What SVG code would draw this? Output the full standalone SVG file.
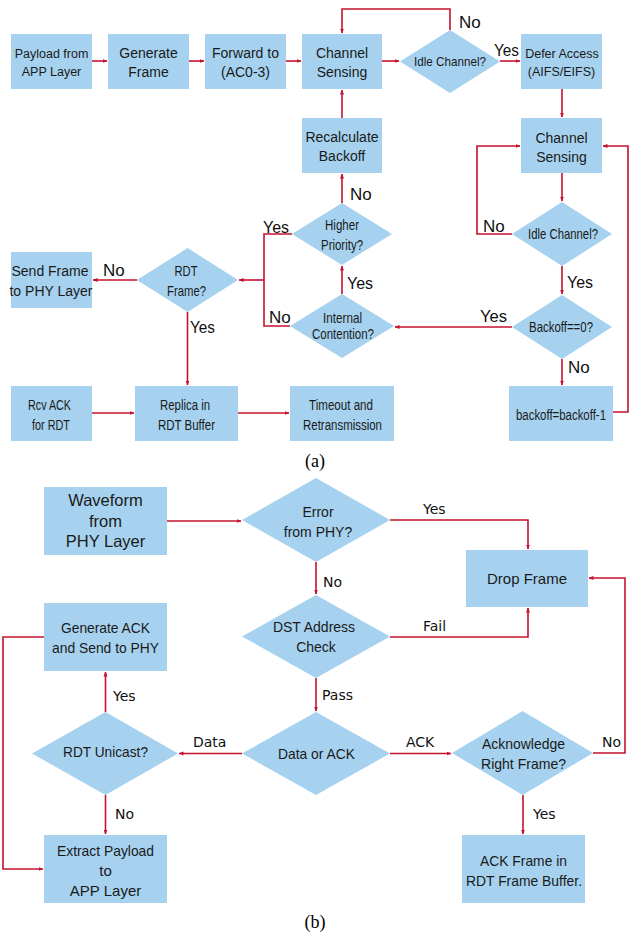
<svg xmlns="http://www.w3.org/2000/svg" width="630" height="938" viewBox="0 0 630 938">
  <style>
    .box { fill: #a6d2ef; }
    .t { font-family: "Liberation Sans", Arial, sans-serif; fill: #1a1a1a; text-anchor: middle; }
    .lbl { font-family: "Liberation Sans", Arial, sans-serif; font-size: 17px; fill: #111; }
    .lb { font-family: "DejaVu Sans", Verdana, sans-serif; font-size: 14px; fill: #111; }
    .cap { font-family: "Liberation Serif", "Times New Roman", serif; font-size: 18px; fill: #000; text-anchor: middle; }
    .c { fill: none; stroke: #c4122f; stroke-width: 1.6; }
    .a { marker-end: url(#arr); }
  </style>
  <defs>
    <marker id="arr" viewBox="0 0 10 10" refX="9" refY="5" markerWidth="5" markerHeight="5" orient="auto" markerUnits="userSpaceOnUse">
      <path d="M0,1 L10,5 L0,9 z" fill="#c4122f"/>
    </marker>
  </defs>

  <rect width="630" height="938" fill="#ffffff"/>

  <!-- (a) transmit side -->
  <g id="payload-app">
    <rect class="box" x="11" y="34" width="81" height="55"/>
    <text class="t" font-size="12.5" x="51.5" y="57.5">Payload from</text>
    <text class="t" font-size="12.5" x="51.5" y="75.5">APP Layer</text>
  </g>
  <g id="generate-frame">
    <rect class="box" x="108" y="34" width="81" height="55"/>
    <text class="t" font-size="14" x="148.5" y="57.5">Generate</text>
    <text class="t" font-size="14" x="148.5" y="77">Frame</text>
  </g>
  <g id="forward-ac">
    <rect class="box" x="205" y="34" width="81" height="55"/>
    <text class="t" font-size="14" x="245.5" y="57.5">Forward to</text>
    <text class="t" font-size="14" x="245.5" y="77">(AC0-3)</text>
  </g>
  <g id="channel-sensing-1">
    <rect class="box" x="302" y="34" width="80" height="55"/>
    <text class="t" font-size="14" x="342" y="57.5">Channel</text>
    <text class="t" font-size="14" x="342" y="77">Sensing</text>
  </g>
  <g id="idle-channel-1">
    <polygon class="box" points="450,30 500,61.5 450,93 400,61.5"/>
    <text class="t" font-size="13.5" x="450" y="66" textLength="72" lengthAdjust="spacingAndGlyphs">Idle Channel?</text>
  </g>
  <g id="defer-access">
    <rect class="box" x="521" y="34" width="81" height="55"/>
    <text class="t" font-size="12.5" x="562" y="57.5">Defer Access</text>
    <text class="t" font-size="12.5" x="561.5" y="76">(AIFS/EIFS)</text>
  </g>
  <g id="recalculate-backoff">
    <rect class="box" x="302" y="118" width="80" height="55"/>
    <text class="t" font-size="14" x="342" y="142">Recalculate</text>
    <text class="t" font-size="14" x="342" y="161">Backoff</text>
  </g>
  <g id="channel-sensing-2">
    <rect class="box" x="521" y="118" width="81" height="55"/>
    <text class="t" font-size="14" x="561.5" y="142.5">Channel</text>
    <text class="t" font-size="14" x="561.5" y="162">Sensing</text>
  </g>
  <g id="higher-priority">
    <polygon class="box" points="342,203 392,234 342,265 292,234"/>
    <text class="t" font-size="15" x="342" y="230" textLength="34" lengthAdjust="spacingAndGlyphs">Higher</text>
    <text class="t" font-size="15" x="342" y="250" textLength="42" lengthAdjust="spacingAndGlyphs">Priority?</text>
  </g>
  <g id="idle-channel-2">
    <polygon class="box" points="562,202 612,234 562,266 512,234"/>
    <text class="t" font-size="15" x="563" y="238.5" textLength="70" lengthAdjust="spacingAndGlyphs">Idle Channel?</text>
  </g>
  <g id="send-frame-phy">
    <rect class="box" x="11" y="252" width="81" height="56"/>
    <text class="t" font-size="14" x="50" y="276">Send Frame</text>
    <text class="t" font-size="14" x="51" y="296">to PHY Layer</text>
  </g>
  <g id="rdt-frame">
    <polygon class="box" points="187.5,248 238,280 187.5,312 137,280"/>
    <text class="t" font-size="15" x="186" y="276" textLength="23" lengthAdjust="spacingAndGlyphs">RDT</text>
    <text class="t" font-size="15" x="186.5" y="296" textLength="39" lengthAdjust="spacingAndGlyphs">Frame?</text>
  </g>
  <g id="internal-contention">
    <polygon class="box" points="342,294 394,326 342,358 290,326"/>
    <text class="t" font-size="15" x="342.5" y="323" textLength="39" lengthAdjust="spacingAndGlyphs">Internal</text>
    <text class="t" font-size="15" x="343" y="339" textLength="62" lengthAdjust="spacingAndGlyphs">Contention?</text>
  </g>
  <g id="backoff-zero">
    <polygon class="box" points="562,295 612,327 562,359 512,327"/>
    <text class="t" font-size="14.5" x="561" y="331.5" textLength="64" lengthAdjust="spacingAndGlyphs">Backoff==0?</text>
  </g>
  <g id="rcv-ack">
    <rect class="box" x="11" y="386" width="81" height="55"/>
    <text class="t" font-size="15.5" x="49.5" y="410" textLength="43" lengthAdjust="spacingAndGlyphs">Rcv ACK</text>
    <text class="t" font-size="15.5" x="51" y="429.5" textLength="38" lengthAdjust="spacingAndGlyphs">for RDT</text>
  </g>
  <g id="replica-buffer">
    <rect class="box" x="135" y="386" width="103" height="55"/>
    <text class="t" font-size="15.5" x="185" y="410" textLength="50" lengthAdjust="spacingAndGlyphs">Replica in</text>
    <text class="t" font-size="15.5" x="186.5" y="429.5" textLength="57" lengthAdjust="spacingAndGlyphs">RDT Buffer</text>
  </g>
  <g id="timeout-retransmission">
    <rect class="box" x="290" y="386" width="104" height="55"/>
    <text class="t" font-size="15.5" x="341" y="410" textLength="64" lengthAdjust="spacingAndGlyphs">Timeout and</text>
    <text class="t" font-size="15.5" x="342.5" y="429.5" textLength="79" lengthAdjust="spacingAndGlyphs">Retransmission</text>
  </g>
  <g id="backoff-decrement">
    <rect class="box" x="509" y="386" width="104" height="55"/>
    <text class="t" font-size="14" x="561" y="419.5" textLength="90" lengthAdjust="spacingAndGlyphs">backoff=backoff-1</text>
  </g>

  <g id="connectors-a">
    <path class="c a" d="M92,61 H107"/>
    <path class="c a" d="M189,61 H204"/>
    <path class="c a" d="M286,61 H301"/>
    <path class="c a" d="M382,61 H399"/>
    <path class="c a" d="M500,61 H520"/>
    <path class="c a" d="M450,30 V9 H342 V33"/>
    <path class="c a" d="M562,89 V117"/>
    <path class="c a" d="M562,173 V201"/>
    <path class="c a" d="M512,234 H477 V146 H520"/>
    <path class="c a" d="M562,266 V294"/>
    <path class="c a" d="M512,327 H395"/>
    <path class="c a" d="M562,359 V385"/>
    <path class="c a" d="M613,412 H628 V146 H603"/>
    <path class="c a" d="M342,294 V266"/>
    <path class="c a" d="M342,203 V174"/>
    <path class="c a" d="M342,118 V90"/>
    <path class="c" d="M292,234 H264 V326 H290"/>
    <path class="c a" d="M264,280 H239"/>
    <path class="c a" d="M137,280 H93"/>
    <path class="c a" d="M187.5,312 V385"/>
    <path class="c a" d="M92,413 H134"/>
    <path class="c a" d="M238,413 H289"/>
  </g>

  <g id="labels-a">
    <text class="lbl" x="459" y="28">No</text>
    <text class="lbl" x="494" y="56" font-size="17" textLength="25" lengthAdjust="spacingAndGlyphs">Yes</text>
    <text class="lbl" x="350" y="200">No</text>
    <text class="lbl" x="263" y="233" font-size="18" textLength="26" lengthAdjust="spacingAndGlyphs">Yes</text>
    <text class="lbl" x="483" y="232">No</text>
    <text class="lbl" x="103" y="276">No</text>
    <text class="lbl" x="567" y="288" font-size="18" textLength="26" lengthAdjust="spacingAndGlyphs">Yes</text>
    <text class="lbl" x="347" y="289" font-size="18" textLength="26" lengthAdjust="spacingAndGlyphs">Yes</text>
    <text class="lbl" x="480" y="322" font-size="18" textLength="27" lengthAdjust="spacingAndGlyphs">Yes</text>
    <text class="lbl" x="269" y="323">No</text>
    <text class="lbl" x="190" y="333" font-size="18" textLength="25" lengthAdjust="spacingAndGlyphs">Yes</text>
    <text class="lbl" x="568" y="373">No</text>
  </g>

  <text class="cap" x="315" y="467">(a)</text>

  <!-- (b) receive side -->
  <g id="waveform-phy">
    <rect class="box" x="44" y="487" width="123" height="68"/>
    <text class="t" font-size="16.5" x="105.5" y="506">Waveform</text>
    <text class="t" font-size="16.5" x="105.5" y="527">from</text>
    <text class="t" font-size="16.5" x="105.5" y="547">PHY Layer</text>
  </g>
  <g id="error-phy">
    <polygon class="box" points="316,478 390,520 316,562 242,520"/>
    <text class="t" font-size="14" x="318" y="517">Error</text>
    <text class="t" font-size="14" x="318" y="537">from PHY?</text>
  </g>
  <g id="drop-frame">
    <rect class="box" x="466" y="550" width="122" height="57"/>
    <text class="t" font-size="15" x="527" y="584">Drop Frame</text>
  </g>
  <g id="generate-ack">
    <rect class="box" x="44" y="603" width="123" height="68"/>
    <text class="t" font-size="14.5" x="105.5" y="633" textLength="89" lengthAdjust="spacingAndGlyphs">Generate ACK</text>
    <text class="t" font-size="14.5" x="105.5" y="653" textLength="107" lengthAdjust="spacingAndGlyphs">and Send to PHY</text>
  </g>
  <g id="dst-address">
    <polygon class="box" points="316,595 390,636.5 316,678 242,636.5"/>
    <text class="t" font-size="14" x="314" y="632">DST Address</text>
    <text class="t" font-size="14" x="316" y="652">Check</text>
  </g>
  <g id="rdt-unicast">
    <polygon class="box" points="105.5,712 178,753.5 105.5,795 32,753.5"/>
    <text class="t" font-size="14.5" x="105.5" y="757" textLength="85" lengthAdjust="spacingAndGlyphs">RDT Unicast?</text>
  </g>
  <g id="data-or-ack">
    <polygon class="box" points="316,712 390,753.5 316,795 242,753.5"/>
    <text class="t" font-size="14.5" x="316.5" y="759" textLength="77" lengthAdjust="spacingAndGlyphs">Data or ACK</text>
  </g>
  <g id="acknowledge-right">
    <polygon class="box" points="522.5,711 593,753 522.5,795 452,753"/>
    <text class="t" font-size="14.5" x="523.5" y="749" textLength="83" lengthAdjust="spacingAndGlyphs">Acknowledge</text>
    <text class="t" font-size="14.5" x="523.5" y="769" textLength="85" lengthAdjust="spacingAndGlyphs">Right Frame?</text>
  </g>
  <g id="extract-payload">
    <rect class="box" x="44" y="835" width="123" height="68"/>
    <text class="t" font-size="15" x="105.5" y="856" textLength="97" lengthAdjust="spacingAndGlyphs">Extract Payload</text>
    <text class="t" font-size="15" x="105.5" y="876">to</text>
    <text class="t" font-size="15" x="105.5" y="896">APP Layer</text>
  </g>
  <g id="ack-frame-buffer">
    <rect class="box" x="462" y="835" width="123" height="68"/>
    <text class="t" font-size="15" x="523.5" y="866" textLength="87" lengthAdjust="spacingAndGlyphs">ACK Frame in</text>
    <text class="t" font-size="15" x="524" y="886" textLength="116" lengthAdjust="spacingAndGlyphs">RDT Frame Buffer.</text>
  </g>

  <g id="connectors-b">
    <path class="c a" d="M167,521 H241"/>
    <path class="c a" d="M390,520 H528 V549"/>
    <path class="c a" d="M316,562 V594"/>
    <path class="c a" d="M390,637 H528 V608"/>
    <path class="c a" d="M316,678 V711"/>
    <path class="c a" d="M242,753.5 H179"/>
    <path class="c a" d="M390,753.5 H451"/>
    <path class="c a" d="M593,753 H625 V578 H589"/>
    <path class="c a" d="M523,795 V834"/>
    <path class="c a" d="M105.5,712 V672"/>
    <path class="c a" d="M105.5,795 V834"/>
    <path class="c a" d="M44,637 H3 V869 H43"/>
  </g>

  <g id="labels-b">
    <text class="lb" x="423" y="514">Yes</text>
    <text class="lb" x="323" y="587">No</text>
    <text class="lb" x="423" y="631">Fail</text>
    <text class="lb" x="322" y="700">Pass</text>
    <text class="lb" x="113" y="701">Yes</text>
    <text class="lb" x="193" y="747">Data</text>
    <text class="lb" x="406" y="747">ACK</text>
    <text class="lb" x="602" y="747">No</text>
    <text class="lb" x="115" y="819">No</text>
    <text class="lb" x="533" y="819">Yes</text>
  </g>

  <text class="cap" x="315" y="928">(b)</text>
</svg>
